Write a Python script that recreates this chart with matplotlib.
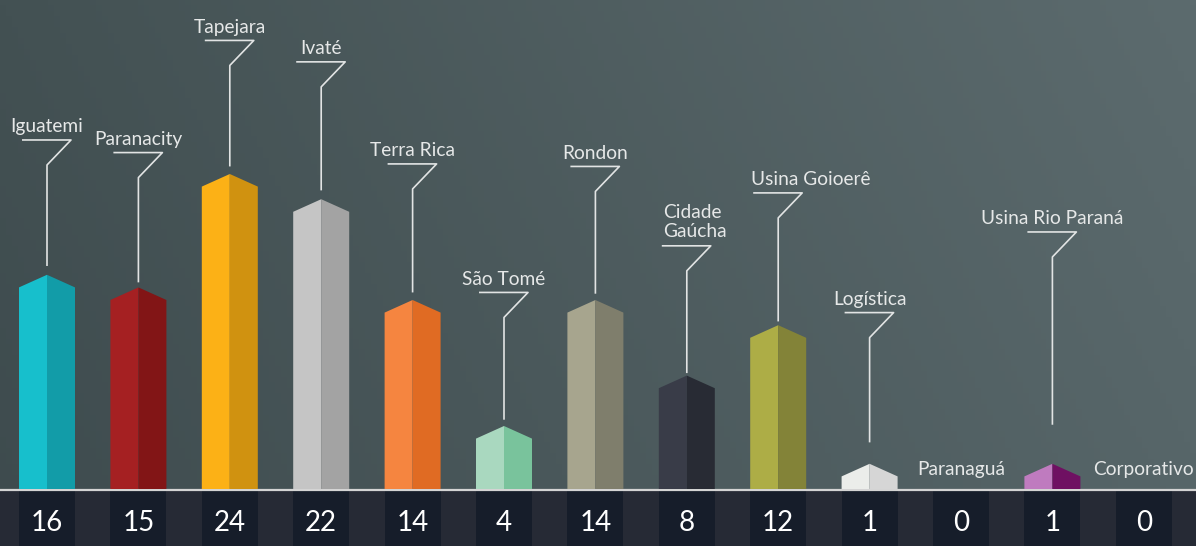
import numpy as np
import matplotlib
matplotlib.use('Agg')
import matplotlib.pyplot as plt
from matplotlib.patches import Polygon, Rectangle

plt.rcParams['font.family'] = ['Lato', 'DejaVu Sans']

sites = ['Iguatemi', 'Paranacity', 'Tapejara', 'Ivaté', 'Terra Rica', 'São Tomé',
         'Rondon', 'Cidade\nGaúcha', 'Usina Goioerê', 'Logística', 'Paranaguá',
         'Usina Rio Paraná', 'Corporativo']
counts = [16, 15, 24, 22, 14, 4, 14, 8, 12, 1, 0, 1, 0]

# front (lit) and side (shaded) faces of each column
light = ['#17bfcc', '#a52022', '#fcb116', '#c5c5c5', '#f58540', '#a9d8bf',
         '#a7a58e', '#393c48', '#adad46', '#ebedea', '#000000', '#bf7bbf', '#000000']
dark = ['#129ca8', '#821516', '#d09210', '#a3a3a3', '#e06b23', '#79c39c',
        '#7f7e6c', '#282b34', '#838338', '#d6d6d6', '#000000', '#6f1062', '#000000']

# callout: height of the label rule, bottom end of its stem, label shift (px)
rule_y = [27.7, 26.7, 35.6, 33.9, 25.8, 15.6, 25.6, 19.3, 23.5, 14.0, None, 20.4, None]
stem_lo = [17.7, 16.4, 25.6, 23.7, 15.6, 5.5, 15.5, 9.2, 13.3, 3.7, None, 5.1, None]
label_dx = [0, 0, 0, 0, 0, 0, 0, 8, 33, 0, 0, 0, 0]

px_x = 91.4   # pixels per column
px_y = 12.6   # pixels per unit
bw = 56 / px_x / 2
roof = 1.0
ymin = -(546 - 489) / px_y
ymax = 489 / px_y
xmin = -47 / px_x
xmax = (1196 - 47) / px_x

fig = plt.figure(figsize=(11.96, 5.46), dpi=100)
ax = fig.add_axes([0, 0, 1, 1])
ax.set_xlim(xmin, xmax)
ax.set_ylim(ymin, ymax)
ax.axis('off')

# background gradient
tl = np.array([0x43, 0x51, 0x53]) / 255
tr = np.array([0x5c, 0x6b, 0x6e]) / 255
bl = np.array([0x3e, 0x4b, 0x4e]) / 255
br = np.array([0x56, 0x65, 0x68]) / 255
gx = np.linspace(0, 1, 200)[None, :, None]
gy = np.linspace(0, 1, 100)[:, None, None]
grad = (1 - gy) * ((1 - gx) * tl + gx * tr) + gy * ((1 - gx) * bl + gx * br)
ax.imshow(grad, extent=[xmin, xmax, ymin, ymax], aspect='auto', zorder=0)

# bottom strip
strip_top = -2 / px_y
ax.add_patch(Rectangle((xmin, ymin), xmax - xmin, strip_top - ymin,
                       facecolor='#262a35', edgecolor='none', zorder=1))
ax.axhline(-1 / px_y, color='#d4d4d4', lw=1.6, zorder=3)

text_kw = dict(color='#e6e8e8', fontsize=13.8, ha='center', zorder=5)
line_kw = dict(color='#e2e4e4', lw=1.2, zorder=4, solid_capstyle='butt')

for i, (name, v) in enumerate(zip(sites, counts)):
    ax.add_patch(Rectangle((i - bw, ymin), 2 * bw, strip_top - ymin,
                           facecolor='#161d2a', edgecolor='none', zorder=2))
    ax.text(i, -2.7, str(v), color='white', fontsize=20, ha='center',
            va='center', zorder=5)

    if v > 0:
        left = Polygon([(i - bw, 0), (i - bw, v), (i, v + roof), (i, 0)],
                       closed=True, facecolor=light[i], edgecolor='none', zorder=3)
        right = Polygon([(i, 0), (i, v + roof), (i + bw, v), (i + bw, 0)],
                        closed=True, facecolor=dark[i], edgecolor='none', zorder=3)
        ax.add_patch(left)
        ax.add_patch(right)

    tx = i + label_dx[i] / px_x
    if rule_y[i] is None:
        ax.text(tx, 1.1, name, va='baseline', **text_kw)
        continue

    hy = rule_y[i]
    dx = 24 / px_x
    dy = 25 / px_y
    ax.plot([i, i, i + dx, i - 25 / px_x], [stem_lo[i], hy - dy, hy, hy], **line_kw)
    if '\n' in name:
        ax.text(tx, hy + 0.5, name, va='bottom', multialignment='left',
                linespacing=1.1, **text_kw)
    else:
        ax.text(tx, hy + 0.6, name, va='baseline', **text_kw)

fig.savefig('out.png', dpi=100)
